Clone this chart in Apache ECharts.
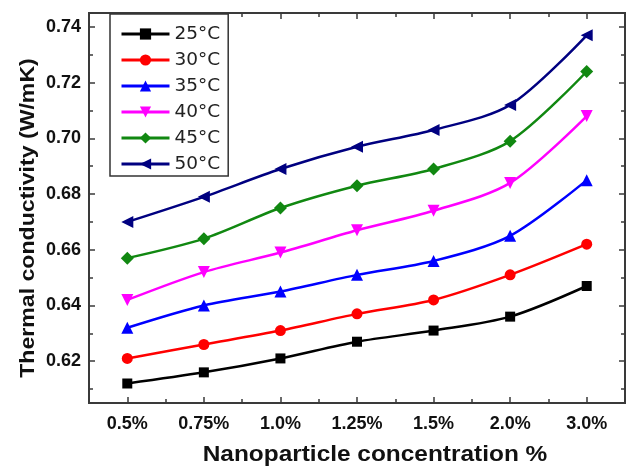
<!DOCTYPE html>
<html>
<head>
<meta charset="utf-8">
<script src="https://cdn.jsdelivr.net/npm/echarts@6/dist/echarts.min.js"></script>
<style>
html,body{margin:0;padding:0;background:#fff;}
#c{width:630px;height:466px;}
</style>
</head>
<body>
<div id="c"></div>
<script>
const categories = ['0.5%', '0.75%', '1.0%', '1.25%', '1.5%', '2.0%', '3.0%'];
const t25 = [0.612, 0.616, 0.621, 0.627, 0.631, 0.636, 0.647];
const t30 = [0.621, 0.626, 0.631, 0.637, 0.642, 0.651, 0.662];
const t35 = [0.632, 0.640, 0.645, 0.651, 0.656, 0.665, 0.685];
const t40 = [0.642, 0.652, 0.659, 0.667, 0.674, 0.684, 0.708];
const t45 = [0.657, 0.664, 0.675, 0.683, 0.689, 0.699, 0.724];
const t50 = [0.670, 0.679, 0.689, 0.697, 0.703, 0.712, 0.737];
const seriesNames = ['25°C', '30°C', '35°C', '40°C', '45°C', '50°C'];
const xName = 'Nanoparticle concentration %';
const yName = 'Thermal conductivity (W/mK)';
const yMin = 0.605, yMax = 0.745;

const FONT = "'Liberation Sans', Arial, sans-serif";
const AX = '#3a3a3a';

const chart = echarts.init(document.getElementById('c'), null, {renderer: 'canvas'});

function catAxis(pos, align, len, showLabel) {
  return {
    type: 'category', data: categories, position: pos, boundaryGap: true,
    axisLine: {show: true, onZero: false, lineStyle: {color: AX, width: 2}},
    axisTick: {show: true, inside: true, alignWithLabel: align, length: len, lineStyle: {color: AX, width: 1.5}},
    axisLabel: {show: showLabel, margin: 12, color: '#111', fontFamily: FONT, fontWeight: 'bold', fontSize: 18},
    splitLine: {show: false}
  };
}
function valAxis(pos, split, len, showLabel) {
  return {
    type: 'value', position: pos, min: yMin, max: yMax, splitNumber: split,
    axisLine: {show: true, onZero: false, lineStyle: {color: AX, width: 2}},
    axisTick: {show: true, inside: true, length: len, lineStyle: {color: AX, width: 1.5}},
    axisLabel: {show: showLabel, margin: 8, color: '#111', fontFamily: FONT, fontWeight: 'bold', fontSize: 18,
      showMinLabel: false, showMaxLabel: false,
      formatter: v => v.toFixed(2)},
    splitLine: {show: false}
  };
}

const styles = [
  {color: '#000000', symbol: 'rect', size: 10, rot: 0},
  {color: '#ff0000', symbol: 'circle', size: 11, rot: 0},
  {color: '#0000ff', symbol: 'triangle', size: 12, rot: 0},
  {color: '#ff00ff', symbol: 'triangle', size: 12, rot: 180},
  {color: '#118811', symbol: 'diamond', size: 13, rot: 0},
  {color: '#000080', symbol: 'triangle', size: 12, rot: 90}
];
const datasets = [t25, t30, t35, t40, t45, t50];

const series = datasets.map((d, i) => ({
  name: seriesNames[i], type: 'line', data: d,
  xAxisIndex: 0, yAxisIndex: 0,
  smooth: 0.3,
  symbol: styles[i].symbol, symbolSize: styles[i].size, symbolRotate: styles[i].rot,
  lineStyle: {color: styles[i].color, width: 2.5},
  itemStyle: {color: styles[i].color},
  z: 3
}));

chart.setOption({
  animation: false,
  backgroundColor: '#fff',
  grid: {left: 89, right: 5, top: 13, bottom: 63, containLabel: false},
  xAxis: [
    catAxis('bottom', true, 6, true),
    catAxis('bottom', false, 4, false),
    catAxis('top', true, 6, false),
    catAxis('top', false, 4, false)
  ],
  yAxis: [
    valAxis('left', 7, 6, true),
    valAxis('left', 14, 4, false),
    valAxis('right', 7, 6, false),
    valAxis('right', 14, 4, false)
  ],
  legend: {
    orient: 'vertical', left: 110, top: 14,
    data: seriesNames,
    itemWidth: 48, itemHeight: 14, itemGap: 6,
    padding: [10, 8, 2, 10],
    borderColor: '#333', borderWidth: 1.5, backgroundColor: '#fff',
    lineStyle: {width: 3},
    textStyle: {fontFamily: "'DejaVu Sans', sans-serif", fontSize: 18.5, color: '#222', lineHeight: 20}
  },
  graphic: [
    {type: 'text', x: 375, y: 455, scaleX: 1.11, style: {text: xName, font: "bold 22px 'Liberation Sans', Arial, sans-serif", fill: '#111', textAlign: 'center', textVerticalAlign: 'middle'}},
    {type: 'text', x: 28, y: 218, rotation: Math.PI / 2, scaleX: 1.1, style: {text: yName, font: "bold 21px 'Liberation Sans', Arial, sans-serif", fill: '#111', textAlign: 'center', textVerticalAlign: 'middle'}}
  ],
  series: series
});
</script>
</body>
</html>
